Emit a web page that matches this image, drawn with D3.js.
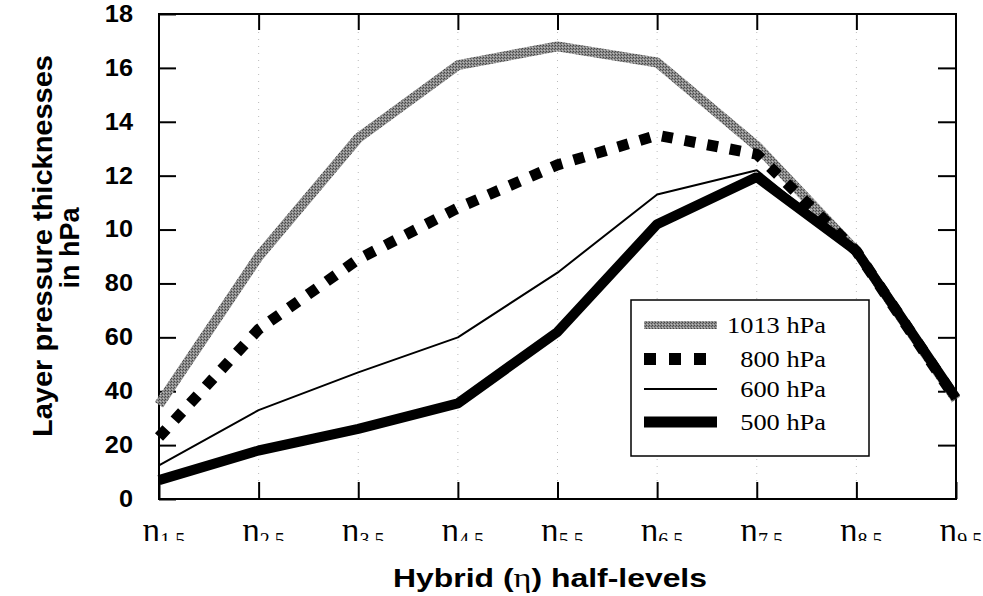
<!DOCTYPE html>
<html>
<head>
<meta charset="utf-8">
<script src="https://cdn.jsdelivr.net/npm/d3@7"></script>
<style>
  body { margin: 0; background: #fff; }
  svg { display: block; }
</style>
</head>
<body>
<svg id="chart" width="983" height="596"></svg>
<script>
// half-level subscripts on the x axis
var levels = ["1.5", "2.5", "3.5", "4.5", "5.5", "6.5", "7.5", "8.5", "9.5"];

// layer pressure thicknesses
var p1013 = [35, 90, 134, 161, 168, 162, 131, 92, 37];
var p800 = [23, 63, 89, 108, 124, 135, 128, 92, 37];
var p600 = [12.5, 33, 47, 60, 84, 113, 122, 92, 37];
var p500 = [7, 18, 26, 35.5, 62, 102, 119.5, 92, 37.5];

var seriesNames = ["1013 hPa", "800 hPa", "600 hPa", "500 hPa"];

var yTicks = [0, 20, 40, 60, 80, 100, 120, 140, 160, 180];
var yTickLabels = ["0", "20", "40", "60", "80", "10", "12", "14", "16", "18"];

var svg = d3.select("#chart");

var margins = { top: 14, bottom: 97, left: 159, right: 27 };
var width = 983 - margins.left - margins.right;
var height = 596 - margins.top - margins.bottom;

var xScale = d3.scalePoint().domain(levels).range([margins.left, margins.left + width]);
var yScale = d3.scaleLinear().domain([0, 180]).range([margins.top + height, margins.top]);

var sans = "'Liberation Sans', Arial, sans-serif";
var serif = "'Liberation Serif', 'Times New Roman', serif";

// stretch a text element horizontally by a factor (the scan is wider than the fonts)
function stretch(sel, k) {
    sel.each(function() {
        var w = this.getComputedTextLength();
        d3.select(this).attr("textLength", w * k).attr("lengthAdjust", "spacingAndGlyphs");
    });
}

// stipple texture for the 1013 hPa line
var defs = svg.append("defs");
var pat = defs.append("pattern")
    .attr("id", "stipple")
    .attr("patternUnits", "userSpaceOnUse")
    .attr("width", 3).attr("height", 3);
pat.append("rect").attr("width", 3).attr("height", 3).attr("fill", "#8c8c8c");
pat.append("rect").attr("x", 0).attr("y", 0).attr("width", 1).attr("height", 1).attr("fill", "#444");
pat.append("rect").attr("x", 2).attr("y", 1).attr("width", 1).attr("height", 1).attr("fill", "#555");
pat.append("rect").attr("x", 1).attr("y", 2).attr("width", 1).attr("height", 1).attr("fill", "#bdbdbd");

defs.append("clipPath").attr("id", "labelClip")
    .append("rect").attr("x", 0).attr("y", 0).attr("width", 983).attr("height", 541);

// faint dotted grid
svg.append("g").selectAll("line")
    .data(levels.slice(1, -1))
    .enter().append("line")
    .attr("x1", function(d) { return xScale(d); })
    .attr("x2", function(d) { return xScale(d); })
    .attr("y1", margins.top + 18)
    .attr("y2", margins.top + height - 18)
    .attr("stroke", "#bbb")
    .attr("stroke-width", 1)
    .attr("stroke-dasharray", "1,6");

// axes, ticks drawn inward
var yAxis = svg.append("g")
    .attr("transform", "translate(" + margins.left + ",0)")
    .call(d3.axisLeft(yScale).tickValues(yTicks).tickSize(-17).tickPadding(26)
        .tickFormat(function(d, i) { return yTickLabels[i]; }));
yAxis.select(".domain").remove();
yAxis.selectAll("line").attr("stroke-width", 2);
yAxis.selectAll("text")
    .style("font-family", sans)
    .style("font-weight", "bold")
    .style("font-size", "23px")
    .attr("fill", "#000")
    .call(stretch, 1.1);

var yAxisRight = svg.append("g")
    .attr("transform", "translate(" + (margins.left + width) + ",0)")
    .call(d3.axisRight(yScale).tickValues(yTicks.slice(1, -1)).tickSize(-18).tickFormat(""));
yAxisRight.select(".domain").remove();
yAxisRight.selectAll("line").attr("stroke-width", 2);

var xAxisTop = svg.append("g")
    .attr("transform", "translate(0," + margins.top + ")")
    .call(d3.axisTop(xScale).tickValues(levels.slice(1, -1)).tickSize(-16).tickFormat(""));
xAxisTop.select(".domain").remove();
xAxisTop.selectAll("line").attr("stroke-width", 2);

var xAxis = svg.append("g")
    .attr("transform", "translate(0," + (margins.top + height) + ")")
    .call(d3.axisBottom(xScale).tickSize(-17).tickFormat(""));
xAxis.select(".domain").remove();
xAxis.selectAll("line").attr("stroke-width", 2);

// eta labels, cut at the bottom as in the scan
var xLabels = svg.append("g").attr("clip-path", "url(#labelClip)")
    .selectAll("text")
    .data(levels)
    .enter().append("text")
    .attr("x", function(d) { return xScale(d) + 5; })
    .attr("y", 541)
    .attr("text-anchor", "middle")
    .style("font-family", serif)
    .style("font-size", "33px");
xLabels.append("tspan").text("\u03b7");
xLabels.append("tspan")
    .attr("dy", 6)
    .style("font-size", "20px")
    .text(function(d) { return d; });

// frame
svg.append("rect")
    .attr("x", margins.left).attr("y", margins.top)
    .attr("width", width).attr("height", height)
    .attr("fill", "none")
    .attr("stroke", "#000")
    .attr("stroke-width", 2);

// lines
var line = d3.line()
    .x(function(d, i) { return xScale(levels[i]); })
    .y(function(d) { return yScale(d); });

var styles = [
    { data: p1013, stroke: "url(#stipple)", width: 10, dash: null },
    { data: p800, stroke: "#000", width: 11, dash: "11,12" },
    { data: p600, stroke: "#000", width: 2, dash: null },
    { data: p500, stroke: "#000", width: 10, dash: null }
];

svg.append("g").selectAll("path")
    .data(styles)
    .enter().append("path")
    .attr("d", function(s) { return line(s.data); })
    .attr("fill", "none")
    .attr("stroke", function(s) { return s.stroke; })
    .attr("stroke-width", function(s) { return s.width; })
    .attr("stroke-dasharray", function(s) { return s.dash; })
    .attr("stroke-linejoin", "bevel");

// legend
var legend = svg.append("g").attr("transform", "translate(631,300)");
legend.append("rect")
    .attr("width", 238).attr("height", 156)
    .attr("fill", "#fff")
    .attr("stroke", "#000")
    .attr("stroke-width", 1.5);

var legendRows = [25, 59, 89, 122];
var legendWidths = [8, 12, 2, 11];
var legendDash = [null, "12,13", null, null];

var items = legend.selectAll(".item")
    .data(seriesNames)
    .enter().append("g")
    .attr("class", "item")
    .attr("transform", function(d, i) { return "translate(0," + legendRows[i] + ")"; });

items.append("line")
    .attr("x1", 13).attr("x2", 86)
    .attr("stroke", function(d, i) { return styles[i].stroke; })
    .attr("stroke-width", function(d, i) { return legendWidths[i]; })
    .attr("stroke-dasharray", function(d, i) { return legendDash[i]; });

items.append("text")
    .attr("x", 195)
    .attr("y", 8)
    .attr("text-anchor", "end")
    .style("font-family", serif)
    .style("font-size", "24px")
    .text(function(d) { return d; })
    .call(stretch, 1.1);

// axis titles
var xTitle = svg.append("text")
    .attr("x", 550)
    .attr("y", 587)
    .attr("text-anchor", "middle")
    .attr("textLength", 314)
    .attr("lengthAdjust", "spacingAndGlyphs")
    .style("font-family", sans)
    .style("font-weight", "bold")
    .style("font-size", "26px");
xTitle.append("tspan").text("Hybrid (");
xTitle.append("tspan")
    .style("font-family", serif)
    .style("font-weight", "normal")
    .style("font-size", "28px")
    .text("\u03b7");
xTitle.append("tspan").text(") half-levels");

var yTitle = svg.append("g")
    .style("font-family", sans)
    .style("font-weight", "bold")
    .style("font-size", "27px");
yTitle.append("text")
    .attr("transform", "translate(52,246) rotate(-90)")
    .attr("text-anchor", "middle")
    .attr("textLength", 382)
    .attr("lengthAdjust", "spacingAndGlyphs")
    .text("Layer pressure thicknesses");
yTitle.append("text")
    .attr("transform", "translate(79,248) rotate(-90)")
    .attr("text-anchor", "middle")
    .text("in hPa");
</script>
</body>
</html>
